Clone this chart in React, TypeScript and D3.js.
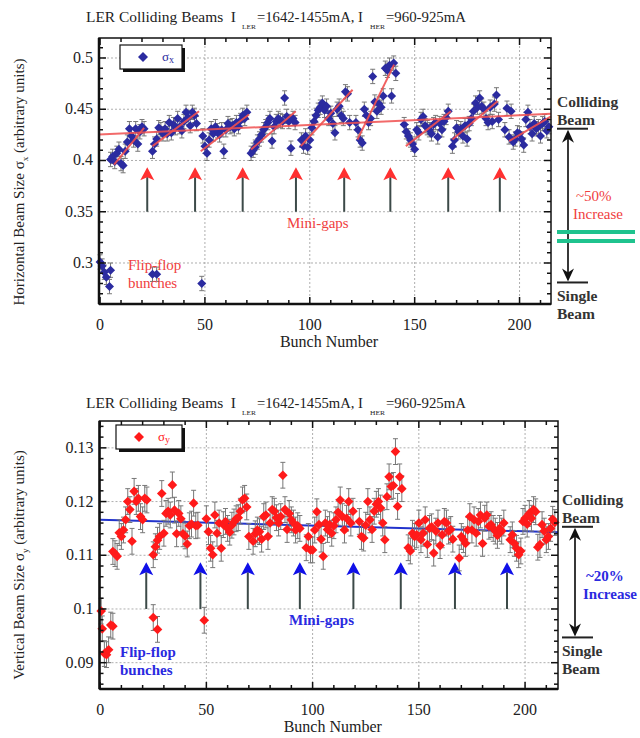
import React from 'react';
import * as d3 from 'd3';

// ---------- DATA ----------
// Horizontal beam size (top panel), colliding bunches, per train segment
const sigmaXStarts = [5, 25, 49, 72, 96, 122, 145, 168, 193];
const sigmaXSegs = [
  [0.401,0.404,0.399,0.407,0.411,0.397,0.395,0.409,0.418,0.431,0.424,0.420,0.431,0.416,0.428,0.433,0.431],
  [0.409,0.416,0.421,0.432,0.430,0.426,0.431,0.426,0.437,0.427,0.435,0.432,0.441,0.433,0.429,0.438,0.447,0.442,0.434,0.447,0.444,0.436],
  [0.424,0.414,0.407,0.420,0.431,0.426,0.433,0.429,0.425,0.430,0.409,0.430,0.436,0.433,0.434,0.431,0.437,0.433,0.439,0.444,0.441,0.447],
  [0.407,0.410,0.413,0.418,0.421,0.425,0.430,0.433,0.437,0.441,0.419,0.433,0.438,0.441,0.439,0.438,0.461,0.443,0.438,0.412,0.441,0.437],
  [0.420,0.414,0.424,0.413,0.420,0.432,0.438,0.444,0.449,0.452,0.456,0.449,0.453,0.441,0.446,0.436,0.427,0.450,0.453,0.444,0.441,0.467,0.465,0.437],
  [0.437,0.430,0.420,0.417,0.450,0.444,0.437,0.441,0.482,0.457,0.448,0.455,0.452,0.463,0.490,0.488,0.493,0.463,0.495,0.485],
  [0.435,0.428,0.424,0.420,0.416,0.411,0.430,0.427,0.440,0.443,0.434,0.432,0.430,0.426,0.435,0.437,0.423,0.436,0.430,0.438,0.442,0.448],
  [0.414,0.420,0.432,0.428,0.431,0.424,0.434,0.421,0.436,0.441,0.448,0.456,0.452,0.461,0.453,0.450,0.441,0.437,0.452,0.438,0.455,0.464,0.440],
  [0.430,0.451,0.423,0.448,0.418,0.421,0.427,0.426,0.421,0.415,0.440,0.447,0.433,0.426,0.436,0.431,0.433,0.424,0.436,0.438,0.429,0.433],
];
// flip-flop bunches (top)
const ffXBunch = [0, 1, 2, 3, 5, 4.5, 25, 27, 48.5];
const ffXValue = [0.301, 0.297, 0.291, 0.286, 0.293, 0.277, 0.289, 0.289, 0.280];
// fit lines (top)
const fitXStart = [6.7, 25, 48, 72, 95.7, 122.7, 145.8, 168, 195];
const fitXEnd = [21, 47.2, 71, 93.3, 120.4, 140.2, 167.3, 189.5, 215];
const fitXStartVal = [0.396, 0.414, 0.409, 0.4107, 0.414, 0.4204, 0.414, 0.4204, 0.4188];
const fitXEndVal = [0.4318, 0.448, 0.4448, 0.448, 0.469, 0.4935, 0.448, 0.4578, 0.4431];
const trendX = [[-0.5, 0.4253], [215, 0.4455]];
const gapsX = [22.5, 45.3, 68, 93.4, 116.4, 138.4, 166, 190.6];

// Vertical beam size (bottom panel)
const sigmaYStarts = [6, 25, 50, 72, 97, 122, 145, 169, 193];
const sigmaYSegs = [
  [0.1107,0.1103,0.1098,0.1142,0.1135,0.1147,0.1166,0.1200,0.1185,0.1126,0.1219,0.1200,0.1206,0.1172,0.1166,0.1206,0.1203],
  [0.1101,0.1116,0.1128,0.1135,0.1215,0.1141,0.1178,0.1182,0.1175,0.1231,0.1184,0.1140,0.1178,0.1168,0.1140,0.1136,0.1121,0.1155,0.1158,0.1197,0.1155,0.1156],
  [0.1168,0.1144,0.1113,0.1101,0.1175,0.1141,0.1160,0.1113,0.1157,0.1163,0.1150,0.1143,0.1156,0.1162,0.1168,0.1170,0.1182,0.1203,0.1206,0.1190,0.1135],
  [0.1126,0.1140,0.1147,0.1144,0.1130,0.1172,0.1175,0.1135,0.1160,0.1185,0.1182,0.1170,0.1160,0.1172,0.1249,0.1185,0.1148,0.1178,0.1166,0.1160,0.1147,0.1155,0.1150],
  [0.1114,0.1135,0.1110,0.1110,0.1147,0.1181,0.1157,0.1130,0.1098,0.1160,0.1148,0.1157,0.1141,0.1155,0.1166,0.1180,0.1203,0.1172,0.1147,0.1169,0.1200,0.1160,0.1182],
  [0.1163,0.1135,0.1132,0.1156,0.1200,0.1166,0.1148,0.1182,0.1195,0.1200,0.1188,0.1160,0.1129,0.1209,0.1246,0.1228,0.1230,0.1293,0.1191,0.1246,0.1224],
  [0.1114,0.1108,0.1141,0.1135,0.1138,0.1160,0.1129,0.1141,0.1166,0.1120,0.1150,0.1153,0.1104,0.1145,0.1160,0.1118,0.1138,0.1163,0.1160,0.1145,0.1148,0.1130],
  [0.1095,0.1135,0.1129,0.1122,0.1147,0.1172,0.1147,0.1166,0.1141,0.1163,0.1175,0.1122,0.1169,0.1175,0.1154,0.1157,0.1150,0.1145,0.1137,0.1150,0.1145,0.1160],
  [0.1129,0.1138,0.1122,0.1113,0.1101,0.1108,0.1163,0.1169,0.1158,0.1178,0.1169,0.1185,0.1181,0.1115,0.1120,0.1157,0.1145,0.1129,0.1135,0.1150,0.1167,0.1161],
];
const ffYBunch = [0.5, 1, 2, 3, 4, 5, 6, 25, 27, 49];
const ffYValue = [0.0996, 0.0963, 0.0917, 0.0915, 0.0924, 0.0970, 0.0968, 0.0984, 0.0962, 0.0979];
const trendY = [[0, 0.1166], [215.5, 0.1143]];
const gapsY = [21.7, 47.2, 69.5, 94, 119.2, 141.5, 167, 191.5];

const xTicks = [0, 50, 100, 150, 200];
const topYTicks = [0.3, 0.35, 0.4, 0.45, 0.5];
const topYLabels = ['0.3', '0.35', '0.4', '0.45', '0.5'];
const botYTicks = [0.09, 0.1, 0.11, 0.12, 0.13];
const botYLabels = ['0.09', '0.1', '0.11', '0.12', '0.13'];

const collidingX = 0.431, singleX = 0.281;
const collidingY = 0.1153, singleY = 0.0947;

// ---------- RENDER ----------
const serif = 'Liberation Serif, Times New Roman, serif';

function flatten(starts: number[], segs: number[][]) {
  const pts: { b: number; v: number }[] = [];
  segs.forEach((s, i) => s.forEach((v, j) => pts.push({ b: starts[i] + j, v })));
  return pts;
}

const diamond = (r: number) => `M0,${-r}L${r},0L0,${r}L${-r},0Z`;

function Title({ x, y }: { x: number; y: number }) {
  const adj = 'spacingAndGlyphs';
  return (
    <g fontFamily={serif} fill="#222">
      <text x={x} y={y} fontSize={15.5} textLength={150} lengthAdjust={adj}>{'LER Colliding Beams\u00a0\u00a0I'}</text>
      <text x={x + 156} y={y + 7} fontSize={7} textLength={14} lengthAdjust={adj}>LER</text>
      <text x={x + 171} y={y} fontSize={15.5} textLength={106} lengthAdjust={adj}>=1642-1455mA, I</text>
      <text x={x + 284} y={y + 7} fontSize={7} textLength={15} lengthAdjust={adj}>HER</text>
      <text x={x + 300} y={y} fontSize={15.5} textLength={80} lengthAdjust={adj}>=960-925mA</text>
    </g>
  );
}

function Panel(p: any) {
  const x = d3.scaleLinear().domain(p.xDomain).range([p.left, p.right]);
  const y = d3.scaleLinear().domain(p.yDomain).range([p.bottom, p.top]);
  const minorX = d3.range(0, 216, 10);
  const minorY = d3.range(p.yDomain[0], p.yDomain[1], p.minorStep).map((v: number) => Math.round(v / p.minorStep) * p.minorStep)
    .filter((v: number) => v >= p.yDomain[0] && v <= p.yDomain[1]);
  const majorSet = new Set(p.yTicks.map((v: number) => v.toFixed(4)));
  const line = d3.line<number[]>().x(d => x(d[0])).y(d => y(d[1]));
  const pts = flatten(p.starts, p.segs);
  const ff = p.ffB.map((b: number, i: number) => ({ b, v: p.ffV[i] }));
  const all = [...ff, ...pts];
  const errs = p.err;
  const markerPts = (
    <g>
      {all.map((d: any, i: number) => (
        <g key={'e' + i} stroke="#777" strokeWidth={1}>
          <line x1={x(d.b)} x2={x(d.b)} y1={y(d.v - errs)} y2={y(d.v + errs)} />
          <line x1={x(d.b) - 2.5} x2={x(d.b) + 2.5} y1={y(d.v + errs)} y2={y(d.v + errs)} />
          <line x1={x(d.b) - 2.5} x2={x(d.b) + 2.5} y1={y(d.v - errs)} y2={y(d.v - errs)} />
        </g>
      ))}
      {all.map((d: any, i: number) => (
        <path key={'p' + i} d={diamond(p.r)} transform={`translate(${x(d.b)},${y(d.v)})`} fill={p.color} />
      ))}
    </g>
  );
  const lx = p.legend;
  const ax = p.ann;
  return (
    <g>
      {/* grid */}
      <g stroke="#999" strokeWidth={0.8} strokeDasharray="2,2">
        {xTicks.filter(t => t > 0).map(t => (
          <line key={'gx' + t} x1={x(t)} x2={x(t)} y1={p.top} y2={p.bottom} />
        ))}
        {p.yTicks.map((t: number) => (
          <line key={'gy' + t} x1={p.left} x2={p.right} y1={y(t)} y2={y(t)} />
        ))}
      </g>
      {/* mini-gap arrows */}
      {p.gaps.map((g: number, i: number) => {
        const gx = x(g), tip = y(p.arrowTip), base = y(p.arrowBase);
        return (
          <g key={'a' + i}>
            <line x1={gx} x2={gx} y1={tip + 10} y2={base} stroke="#3c4a48" strokeWidth={2} />
            <path d={`M${gx},${tip}L${gx + 7},${tip + 13}L${gx},${tip + 10}L${gx - 7},${tip + 13}Z`} fill={p.arrowColor} />
          </g>
        );
      })}
      {p.trendBehind && <path d={line(p.trend) || ''} stroke={p.trendColor} strokeWidth={2} fill="none" />}
      {markerPts}
      {!p.trendBehind && <path d={line(p.trend) || ''} stroke={p.trendColor} strokeWidth={2} fill="none" opacity={0.85} />}
      {p.fitStart && p.fitStart.map((s: number, i: number) => (
        <line key={'f' + i} x1={x(s)} y1={y(p.fitStartVal[i])} x2={x(p.fitEnd[i])} y2={y(p.fitEndVal[i])}
          stroke="#f05050" strokeWidth={2} opacity={0.9} />
      ))}
      {/* frame */}
      <rect x={p.left} y={p.top} width={p.right - p.left} height={p.bottom - p.top} fill="none" stroke="#111" strokeWidth={1.5} />
      <line x1={p.left} x2={p.left} y1={p.top} y2={p.bottom} stroke="#111" strokeWidth={2.5} />
      <line x1={p.left} x2={p.right} y1={p.bottom} y2={p.bottom} stroke="#111" strokeWidth={2.5} />
      {/* ticks */}
      <g stroke="#111" strokeWidth={1.5}>
        {minorX.map(t => {
          const len = t % 50 === 0 ? 7 : 4;
          return (
            <g key={'tx' + t}>
              <line x1={x(t)} x2={x(t)} y1={p.bottom} y2={p.bottom - len} />
              <line x1={x(t)} x2={x(t)} y1={p.top} y2={p.top + len} />
            </g>
          );
        })}
        {minorY.map((t: number) => {
          const len = majorSet.has(t.toFixed(4)) ? 7 : 4;
          return (
            <g key={'ty' + t}>
              <line x1={p.left} x2={p.left + len} y1={y(t)} y2={y(t)} />
              <line x1={p.right} x2={p.right - len} y1={y(t)} y2={y(t)} />
            </g>
          );
        })}
      </g>
      {/* tick labels */}
      <g fontFamily={serif} fontSize={16} fill="#222">
        {xTicks.map(t => (
          <text key={'lx' + t} x={x(t)} y={p.bottom + 26} textAnchor="middle">{t}</text>
        ))}
        {p.yTicks.map((t: number, i: number) => (
          <text key={'ly' + t} x={p.left - 6} y={y(t) + 5} textAnchor="end">{p.yLabels[i]}</text>
        ))}
        <text x={(p.left + p.right) / 2 + 4} y={p.bottom + 43} textAnchor="middle">Bunch Number</text>
      </g>
      {/* y axis label */}
      <text transform={`translate(24,${p.yLabelY}) rotate(-90)`} textAnchor="middle" fontFamily={serif} fontSize={15} fill="#222">
        {p.yLabelA}<tspan fontSize={9} dy={4}>{p.yLabelSub}</tspan><tspan dy={-4}>{' (arbitrary units)'}</tspan>
      </text>
      {/* legend */}
      <rect x={lx.x + 3} y={lx.y + 3} width={lx.w} height={lx.h} fill="#111" />
      <rect x={lx.x} y={lx.y} width={lx.w} height={lx.h} fill="#fff" stroke="#111" strokeWidth={1.2} />
      <path d={diamond(5)} transform={`translate(${lx.x + 23},${lx.y + lx.h / 2})`} fill={p.color} />
      <text x={lx.x + 42} y={lx.y + lx.h / 2 + 4} fontFamily={serif} fontSize={13} fill={p.color}>
        σ<tspan fontSize={10} dy={2}>{p.legendSub}</tspan>
      </text>
      {/* annotations: mini-gaps, flip-flop */}
      <g fontFamily={serif} fontSize={15} fill={p.noteColor} fontWeight={p.noteWeight}>
        <text x={p.miniX} y={p.miniY}>Mini-gaps</text>
        <text x={p.flipX} y={p.flipY}>Flip-flop</text>
        <text x={p.flipX} y={p.flipY + 18}>bunches</text>
      </g>
      {/* right annotation */}
      <g fontFamily={serif} fontSize={15.5} fill="#333" fontWeight="bold">
        <text x={ax.textX} y={y(ax.coll) - 22}>Colliding</text>
        <text x={ax.textX} y={y(ax.coll) - 4}>Beam</text>
        <text x={ax.textX} y={y(ax.single) + 19}>Single</text>
        <text x={ax.textX} y={y(ax.single) + 37}>Beam</text>
      </g>
      <g stroke="#222" strokeWidth={2}>
        <line x1={ax.textX} x2={ax.textX + 31} y1={y(ax.coll)} y2={y(ax.coll)} />
        <line x1={ax.textX} x2={ax.textX + 31} y1={y(ax.single)} y2={y(ax.single)} />
        <line x1={ax.arrowX} x2={ax.arrowX} y1={y(ax.coll) + 8} y2={y(ax.single) - 8} strokeWidth={1.8} />
      </g>
      <path d={`M${ax.arrowX},${y(ax.coll) + 1}L${ax.arrowX + 6},${y(ax.coll) + 14}L${ax.arrowX},${y(ax.coll) + 10}L${ax.arrowX - 6},${y(ax.coll) + 14}Z`} fill="#111" />
      <path d={`M${ax.arrowX},${y(ax.single) - 1}L${ax.arrowX + 6},${y(ax.single) - 14}L${ax.arrowX},${y(ax.single) - 10}L${ax.arrowX - 6},${y(ax.single) - 14}Z`} fill="#111" />
      <g fontFamily={serif} fontSize={15} fill={p.noteColor} fontWeight={p.noteWeight}>
        <text x={ax.pctX} y={ax.pctY}>{ax.pct}</text>
        <text x={ax.pctX - 3} y={ax.pctY + 18}>Increase</text>
      </g>
      {ax.breakY && (
        <g stroke="#1fc38e" strokeWidth={4}>
          <line x1={557} x2={635} y1={ax.breakY} y2={ax.breakY} />
          <line x1={557} x2={635} y1={ax.breakY + 9} y2={ax.breakY + 9} />
        </g>
      )}
    </g>
  );
}

export default function App() {
  return (
    <svg width={640} height={738} style={{ display: 'block', position: 'absolute', left: 0, top: 0, background: '#fff' }}>
      <rect width={640} height={738} fill="#fff" />
      <Title x={86} y={22} />
      <Panel
        xDomain={[-0.5, 215]} yDomain={[0.26, 0.5195]} left={99} right={551} top={38} bottom={304}
        minorStep={0.01} yTicks={topYTicks} yLabels={topYLabels}
        starts={sigmaXStarts} segs={sigmaXSegs} ffB={ffXBunch} ffV={ffXValue}
        err={0.007} r={4.5} color="#2b2ba0"
        trend={trendX} trendColor="#f05050" trendBehind={false}
        fitStart={fitXStart} fitEnd={fitXEnd} fitStartVal={fitXStartVal} fitEndVal={fitXEndVal}
        gaps={gapsX} arrowTip={0.3935} arrowBase={0.35} arrowColor="#ff3030"
        yLabelY={182} yLabelA="Horizontal Beam Size σ" yLabelSub="x"
        legend={{ x: 120, y: 45, w: 62, h: 24 }} legendSub="x"
        noteColor="#f04040" noteWeight="normal"
        miniX={287} miniY={228} flipX={128} flipY={270}
        ann={{ coll: collidingX, single: singleX, textX: 557, arrowX: 568, pct: '~50%', pctX: 576, pctY: 201, breakY: 232 }}
      />
      <Title x={86} y={408} />
      <Panel
        xDomain={[-0.3, 215.5]} yDomain={[0.0851, 0.135]} left={99.5} right={558} top={421} bottom={689}
        minorStep={0.002} yTicks={botYTicks} yLabels={botYLabels}
        starts={sigmaYStarts} segs={sigmaYSegs} ffB={ffYBunch} ffV={ffYValue}
        err={0.0024} r={4.8} color="#ff1a1a"
        trend={trendY} trendColor="#2233cc" trendBehind={true}
        gaps={gapsY} arrowTip={0.1087} arrowBase={0.1} arrowColor="#1010e8"
        yLabelY={565} yLabelA="Vertical Beam Size σ" yLabelSub="y"
        legend={{ x: 116, y: 425, w: 66, h: 24 }} legendSub="y"
        noteColor="#2a2ae0" noteWeight="bold"
        miniX={289} miniY={625} flipX={120} flipY={657}
        ann={{ coll: collidingY, single: singleY, textX: 562, arrowX: 575, pct: '~20%', pctX: 586, pctY: 581, breakY: null }}
      />
    </svg>
  );
}
